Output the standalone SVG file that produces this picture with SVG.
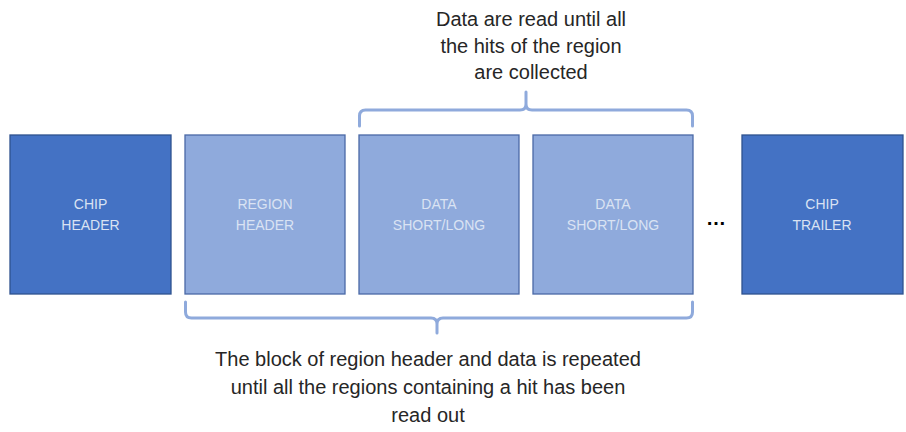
<svg xmlns="http://www.w3.org/2000/svg" width="906" height="432" viewBox="0 0 906 432">
  <style>
    .chip { fill: #4472c4; stroke: #2f528f; stroke-width: 1.3; }
    .region { fill: #8faadc; stroke: #4a69a6; stroke-width: 1.3; }
    .label { font-family: "Liberation Sans", Arial, sans-serif; font-size: 14px; fill: #dae3f3; text-anchor: middle; }
    .note { font-family: "Liberation Sans", Arial, sans-serif; font-size: 20px; fill: #262626; text-anchor: middle; }
    .brace { fill: none; stroke: #8faadc; stroke-width: 3; stroke-linejoin: round; stroke-linecap: round; }
  </style>
  <rect width="906" height="432" fill="#ffffff"/>

  <g id="chip-header">
    <rect class="chip" x="10" y="135" width="161" height="159"/>
    <text class="label" x="90.5" y="209">CHIP</text>
    <text class="label" x="90.5" y="230">HEADER</text>
  </g>

  <g id="region-header">
    <rect class="region" x="185" y="135" width="160" height="159"/>
    <text class="label" x="265" y="209">REGION</text>
    <text class="label" x="265" y="230">HEADER</text>
  </g>

  <g id="data-1">
    <rect class="region" x="359" y="135" width="160" height="159"/>
    <text class="label" x="439" y="209">DATA</text>
    <text class="label" x="439" y="230">SHORT/LONG</text>
  </g>

  <g id="data-2">
    <rect class="region" x="533" y="135" width="160" height="159"/>
    <text class="label" x="613" y="209">DATA</text>
    <text class="label" x="613" y="230">SHORT/LONG</text>
  </g>

  <g id="ellipsis">
    <text x="716" y="225" font-family="Liberation Sans, Arial, sans-serif" font-size="20" font-weight="bold" fill="#000000" text-anchor="middle">…</text>
  </g>

  <g id="chip-trailer">
    <rect class="chip" x="742" y="135" width="161" height="159"/>
    <text class="label" x="822" y="209">CHIP</text>
    <text class="label" x="822" y="230">TRAILER</text>
  </g>

  <g id="connectors">
    <!-- brace over the data blocks -->
    <path class="brace" d="M359.5,126 L359.5,116 Q359.5,110 365.5,110 L520,110 Q526,110 526,104 L526,92 M526,104 Q526,110 532,110 L686.5,110 Q692.5,110 692.5,116 L692.5,126"/>
    <!-- brace under the region block -->
    <path class="brace" d="M185.5,302 L185.5,312 Q185.5,318 191.5,318 L431,318 Q437,318 437,324 L437,333 M437,324 Q437,318 443,318 L686.5,318 Q692.5,318 692.5,312 L692.5,302"/>
  </g>

  <g id="top-note">
    <text class="note" x="531" y="26" font-size="20.5">Data are read until all</text>
    <text class="note" x="531" y="53" font-size="20.5">the hits of the region</text>
    <text class="note" x="531" y="79" font-size="20.5">are collected</text>
  </g>

  <g id="bottom-note">
    <text class="note" x="428" y="366">The block of region header and data is repeated</text>
    <text class="note" x="428" y="394">until all the regions containing a hit has been</text>
    <text class="note" x="428" y="422">read out</text>
  </g>
</svg>
